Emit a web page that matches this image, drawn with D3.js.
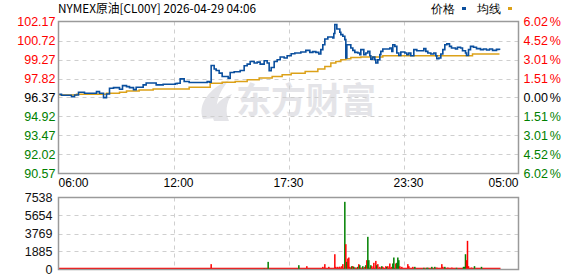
<!DOCTYPE html>
<html>
<head>
<meta charset="utf-8">
<script src="https://cdn.jsdelivr.net/npm/d3@7"></script>
<style>
body { margin: 0; background: #fff; }
text { font-family: "Liberation Sans", Arial, sans-serif; }
</style>
</head>
<body>
<svg id="chart" width="578" height="276"></svg>
<script>
// minutes after 06:00, price
var priceData = [
	[2,96.62],[9,96.54],[33,96.54],[39,96.43],[48,96.56],[60,96.77],[69,96.77],[78,96.70],
	[105,96.70],[114,96.82],[123,96.70],[135,96.36],[144,96.64],[153,97.08],[165,97.12],[180,97.12],
	[183,97.00],[192,97.28],[204,97.20],[213,97.12],[225,96.97],[233,97.15],[254,97.33],[263,97.48],
	[284,97.48],[293,97.33],[314,97.38],[332,97.38],[350,97.43],[356,97.46],[365,97.79],[377,97.59],
	[392,97.51],[440,97.51],[446,97.59],[452,97.54],[458,98.81],[467,98.54],[473,98.43],[482,98.23],
	[491,97.97],[500,97.97],[509,97.85],[515,98.28],[527,98.33],[542,98.33],[545,98.43],[557,98.79],
	[566,98.92],[575,99.12],[587,99.00],[596,99.07],[605,98.92],[617,99.17],[626,99.00],[632,98.41],
	[638,98.66],[647,99.12],[656,99.25],[665,99.46],[677,99.38],[686,99.56],[698,99.71],[709,99.77],
	[718,99.77],[727,99.84],[742,99.97],[754,99.81],[763,99.87],[772,99.81],[781,99.69],[787,100.02],
	[793,100.40],[799,100.84],[808,100.99],[817,100.99],[823,100.92],[826,101.25],[829,101.94],[835,101.60],
	[844,101.35],[847,101.17],[853,101.04],[859,100.79],[862,99.38],[865,100.40],[871,100.40],[877,100.15],
	[883,99.97],[889,99.81],[898,99.77],[904,99.64],[907,100.02],[916,99.64],[922,99.77],[928,99.89],
	[934,99.56],[937,99.30],[943,99.46],[949,99.25],[952,99.00],[958,99.25],[964,99.64],[967,99.89],
	[973,100.07],[988,100.07],[994,100.15],[1000,99.89],[1003,100.40],[1009,100.27],[1015,99.77],[1021,99.58],
	[1027,99.84],[1039,99.77],[1045,99.64],[1051,99.77],[1057,99.56],[1066,100.02],[1075,99.94],[1087,99.94],
	[1096,100.10],[1102,99.89],[1108,99.77],[1117,99.69],[1126,99.77],[1132,99.56],[1135,99.33],[1141,99.38],
	[1147,99.69],[1153,100.02],[1159,100.40],[1165,100.46],[1173,100.27],[1179,100.15],[1191,100.07],[1197,100.20],
	[1206,100.15],[1212,99.94],[1221,99.77],[1224,99.58],[1230,100.02],[1236,100.27],[1245,100.20],[1254,100.10],
	[1266,100.02],[1275,100.07],[1284,100.00],[1293,100.07],[1302,99.97],[1314,100.04],[1323,100.00]
];
// minutes after 06:00, average price
var avgData = [
	[2,96.56],[54,96.62],[129,96.62],[144,96.70],[183,96.77],[204,96.87],[242,96.95],[284,97.02],
	[392,97.15],[455,97.46],[491,97.54],[530,97.59],[566,97.72],[602,97.85],[641,97.97],[671,98.10],
	[698,98.23],[740,98.36],[778,98.54],[799,98.74],[817,99.00],[832,99.12],[847,99.25],[862,99.33],
	[877,99.43],[907,99.46],[973,99.56],[1242,99.69],[1323,99.69]
];
// minutes after 06:00, volume, 1 = up (red) / 0 = down (green)
var volData = [
	[458,560,1],[569,150,1],[617,100,0],[629,800,0],[721,450,0],[745,350,1],[793,280,1],[799,560,1],
	[811,280,1],[829,1600,1],[832,280,1],[838,280,1],[844,300,1],[850,350,1],[853,560,1],[859,7085,0],
	[862,2650,1],[865,800,0],[868,1150,1],[871,1256,1],[874,280,1],[880,350,0],[883,350,1],[886,280,0],
	[892,200,1],[898,280,0],[901,560,1],[904,450,0],[910,200,1],[913,350,0],[919,280,1],[922,450,0],
	[925,977,1],[928,3420,0],[931,977,0],[937,450,0],[940,350,1],[946,700,1],[952,900,1],[955,450,0],
	[958,560,1],[964,280,1],[970,350,0],[973,280,1],[982,350,1],[985,280,0],[988,350,1],[994,630,1],
	[1000,280,1],[1003,630,0],[1006,1256,0],[1012,630,1],[1015,700,0],[1018,1256,0],[1021,977,0],[1024,350,1],
	[1030,280,1],[1048,560,1],[1051,350,1],[1063,280,1],[1069,280,0],[1096,180,0],[1105,180,0],[1108,180,0],
	[1120,280,0],[1129,280,0],[1135,200,1],[1150,560,1],[1153,280,1],[1159,280,0],[1168,200,1],[1180,200,1],
	[1194,180,0],[1215,280,0],[1218,280,0],[1221,1600,0],[1224,977,1],[1227,3000,1],[1230,350,1],[1239,200,1],
	[1248,350,0],[1269,280,0]
];
var priceTicks = [102.17, 100.72, 99.27, 97.82, 96.37, 94.92, 93.47, 92.02, 90.57],
	pctTicks = ['6.02', '4.52', '3.01', '1.51', '0.00', '1.51', '3.01', '4.52', '6.02'],
	volTicks = [7538, 5654, 3769, 1885, 0],
	timeLabels = ['06:00', '12:00', '17:30', '23:30', '05:00'],
	timeMins = [0, 360, 690, 1050, 1380],
	gridMins = [345, 690, 1035];

var svg = d3.select('#chart'),
	plot = { left: 58.5, right: 518.5, top: 21.5, bottom: 173.5 },
	vplot = { top: 197.5, bottom: 269.5 },
	frameColor = '#9a9a9a',
	gridColor = '#cfcfcf',
	red = '#ff0000',
	green = '#008000';

var x = d3.scaleLinear().domain([0, 1380]).range([plot.left, plot.right]),
	y = d3.scaleLinear().domain([90.57, 102.17]).range([plot.bottom, plot.top]),
	vy = d3.scaleLinear().domain([0, 7538]).range([vplot.bottom, vplot.top]);

function tickColor(i) {
	if (i < 4) return red;
	if (i == 4) return '#000';
	return green;
}

// watermark
var wm = svg.append('g').attr('class', 'watermark');
wm.append('path')
	.attr('d', 'M203,119 C197,104 210,88 229,80 C219,92 214,104 218,118 Z')
	.attr('fill', '#e4e4e8');
wm.append('path')
	.attr('d', 'M214,121 C210,110 218,99 232,94 C226,103 225,112 229,121 Z')
	.attr('fill', '#e4e4e8');
wm.append('text')
	.attr('x', 236).attr('y', 113)
	.attr('font-family', '"Noto Sans CJK SC", sans-serif')
	.attr('font-size', 35).attr('font-weight', 'bold')
	.attr('fill', '#e4e4e8')
	.style('font-family', '"Noto Sans CJK SC", sans-serif')
	.text('东方财富');

// grid lines
var grid = svg.append('g').attr('class', 'grid')
	.attr('stroke', gridColor).attr('stroke-dasharray', '4,4').attr('stroke-width', 1);
grid.selectAll('.hline').data(priceTicks.slice(1, -1)).enter().append('line')
	.attr('x1', plot.left).attr('x2', plot.right)
	.attr('y1', function (d) { return Math.round(y(d)) + 0.5; })
	.attr('y2', function (d) { return Math.round(y(d)) + 0.5; });
grid.selectAll('.vline').data(gridMins).enter().append('line')
	.attr('x1', function (d) { return Math.round(x(d)) + 0.5; })
	.attr('x2', function (d) { return Math.round(x(d)) + 0.5; })
	.attr('y1', plot.top).attr('y2', plot.bottom);
grid.selectAll('.vhline').data(volTicks.slice(1, -1)).enter().append('line')
	.attr('x1', plot.left).attr('x2', plot.right)
	.attr('y1', function (d) { return Math.round(vy(d)) + 0.5; })
	.attr('y2', function (d) { return Math.round(vy(d)) + 0.5; });
grid.selectAll('.vvline').data(gridMins).enter().append('line')
	.attr('x1', function (d) { return Math.round(x(d)) + 0.5; })
	.attr('x2', function (d) { return Math.round(x(d)) + 0.5; })
	.attr('y1', vplot.top).attr('y2', vplot.bottom);

// volume bars
svg.append('line')
	.attr('x1', x(0)).attr('x2', x(1326))
	.attr('y1', vplot.bottom - 1).attr('y2', vplot.bottom - 1)
	.attr('stroke', red).attr('stroke-width', 1.5);
svg.append('g').selectAll('rect').data(volData).enter().append('rect')
	.attr('x', function (d) { return x(d[0]) - 0.75; })
	.attr('y', function (d) { return vy(d[1]); })
	.attr('width', 1.5)
	.attr('height', function (d) { return vplot.bottom - vy(d[1]); })
	.attr('fill', function (d) { return d[2] ? red : green; });

// average line
svg.append('path').datum(avgData)
	.attr('fill', 'none').attr('stroke', '#dca118').attr('stroke-width', 1.5)
	.attr('d', d3.line().curve(d3.curveStepAfter)
		.x(function (d) { return x(d[0]); })
		.y(function (d) { return y(d[1]); }));

// price line
svg.append('path').datum(priceData)
	.attr('fill', 'none').attr('stroke', '#0a4f9e').attr('stroke-width', 1.6)
	.attr('stroke-linejoin', 'miter')
	.attr('d', d3.line().curve(d3.curveStepAfter)
		.x(function (d) { return x(d[0]); })
		.y(function (d) { return y(d[1]); }));

// frames
svg.append('rect')
	.attr('x', plot.left).attr('y', plot.top)
	.attr('width', plot.right - plot.left).attr('height', plot.bottom - plot.top)
	.attr('fill', 'none').attr('stroke', frameColor).attr('stroke-width', 1.5);
svg.append('rect')
	.attr('x', plot.left).attr('y', vplot.top)
	.attr('width', plot.right - plot.left).attr('height', vplot.bottom - vplot.top)
	.attr('fill', 'none').attr('stroke', frameColor).attr('stroke-width', 1.5);

// left price axis
var yAxis = svg.append('g')
	.attr('transform', 'translate(' + (plot.left - 3) + ',0)')
	.call(d3.axisLeft(y).tickValues(priceTicks).tickSize(0).tickPadding(0)
		.tickFormat(d3.format('.2f')));
yAxis.select('.domain').remove();
yAxis.selectAll('text')
	.attr('font-size', 12.5)
	.style('font-family', '"Liberation Sans", Arial, sans-serif')
	.attr('fill', function (d, i) { return tickColor(i); });

// right percent axis
var pAxis = svg.append('g').selectAll('text').data(pctTicks).enter().append('text')
	.attr('x', plot.right + 5)
	.attr('y', function (d, i) { return y(priceTicks[i]) + 4.5; })
	.attr('font-size', 12.5)
	.attr('fill', function (d, i) { return tickColor(i); });
pAxis.append('tspan').text(function (d) { return d; });
pAxis.append('tspan').attr('dx', 2).text('%');

// volume axis
var vAxis = svg.append('g')
	.attr('transform', 'translate(' + (plot.left - 6) + ',0)')
	.call(d3.axisLeft(vy).tickValues(volTicks).tickSize(0).tickPadding(0)
		.tickFormat(d3.format('d')));
vAxis.select('.domain').remove();
vAxis.selectAll('text')
	.attr('font-size', 12.5)
	.style('font-family', '"Liberation Sans", Arial, sans-serif')
	.attr('fill', '#111');

// time labels
svg.append('g').selectAll('text').data(timeLabels).enter().append('text')
	.attr('x', function (d, i) { return x(timeMins[i]); })
	.attr('y', 187)
	.attr('font-size', 12)
	.attr('text-anchor', function (d, i) { return i == 0 ? 'start' : (i == timeLabels.length - 1 ? 'end' : 'middle'); })
	.attr('fill', '#000')
	.text(function (d) { return d; });

// title
svg.append('text')
	.attr('x', 58).attr('y', 13)
	.attr('font-size', 12)
	.attr('textLength', 198).attr('lengthAdjust', 'spacingAndGlyphs')
	.style('font-family', '"Noto Sans CJK SC", sans-serif')
	.attr('fill', '#000')
	.text('NYMEX原油[CL00Y] 2026-04-29 04:06');

// legend
var legend = svg.append('g').style('font-family', '"Noto Sans CJK SC", sans-serif');
legend.append('text').attr('x', 431).attr('y', 13).attr('font-size', 12).attr('fill', '#000').text('价格');
legend.append('rect').attr('x', 462).attr('y', 7).attr('width', 4).attr('height', 3).attr('fill', '#0a4f9e');
legend.append('text').attr('x', 477).attr('y', 13).attr('font-size', 12).attr('fill', '#000').text('均线');
legend.append('rect').attr('x', 508).attr('y', 7).attr('width', 4).attr('height', 3).attr('fill', '#dca118');
</script>
</body>
</html>
